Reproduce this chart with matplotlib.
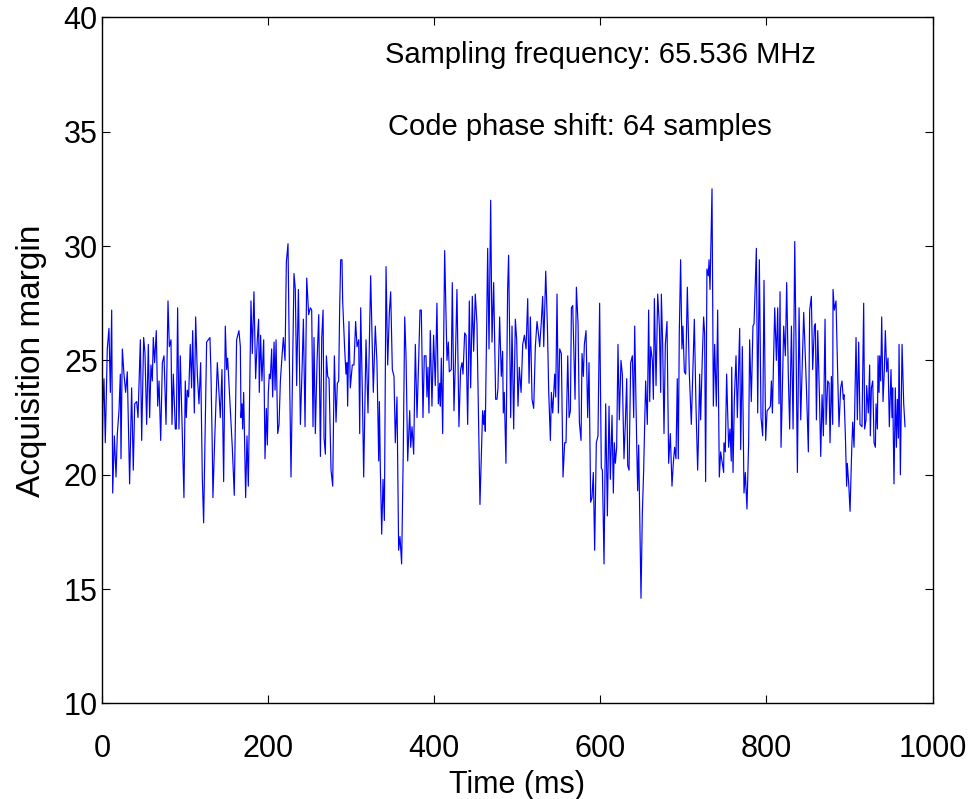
import matplotlib
matplotlib.use("Agg")
import matplotlib.pyplot as plt
from matplotlib import font_manager as fm
import numpy as np

# ---------------- data ----------------
t_seg1 = [0.0, 1.2, 2.4, 4.0, 6.4, 8.4, 10.1, 11.7, 12.9, 14.9,
          16.9, 18.5, 20.5, 22.1, 22.9, 24.5, 26.5, 28.5, 30.5, 33.3,
          35.7, 37.7, 39.4, 41.8, 43.4, 46.2, 47.8, 50.2, 51.8, 53.8,
          55.8, 57.4, 59.0, 60.6, 61.8, 63.4, 65.4, 67.1, 68.7, 70.7,
          72.7, 74.7, 77.1, 79.5, 81.1, 83.1, 84.3, 85.9, 88.3, 89.5,
          91.1, 92.7, 94.3]
m_seg1 = [20.0, 23.1, 24.2, 21.4, 25.5, 26.4, 23.6, 27.2, 19.2, 21.7,
          19.9, 21.8, 22.8, 24.4, 20.7, 25.5, 24.4, 23.6, 24.5, 19.6,
          23.8, 20.2, 23.1, 23.2, 22.5, 25.9, 21.5, 26.0, 25.3, 22.2,
          25.7, 22.5, 24.8, 24.1, 26.0, 24.9, 26.3, 23.0, 24.1, 21.5,
          24.9, 25.2, 22.2, 27.6, 25.6, 25.9, 22.2, 24.4, 22.0, 22.0,
          27.3, 22.0, 25.2]

t_seg2 = [98.7, 100.3, 101.5, 102.7, 104.3, 106.3, 107.9, 109.2, 111.2, 112.8,
          114.8, 116.8, 118.8, 120.8, 122.4, 126.0, 128.0, 130.0, 131.2, 132.8,
          133.6, 135.6, 138.9, 140.5, 142.5, 144.5, 146.5, 148.5, 150.1, 151.3,
          153.3, 154.9, 156.9, 159.3, 162.1, 164.9, 166.6, 167.4, 168.6, 169.4,
          170.6, 173.0, 174.6, 176.2, 179.4, 181.0, 183.0, 185.0, 187.0, 188.6,
          189.4, 191.0, 192.6]
m_seg2 = [19.0, 24.1, 22.5, 23.7, 23.4, 25.7, 23.8, 26.3, 22.7, 26.9,
          24.4, 23.1, 24.9, 19.9, 17.9, 25.8, 25.9, 26.0, 24.5, 21.2,
          19.0, 21.4, 24.9, 23.8, 22.5, 24.6, 19.7, 26.5, 24.6, 25.1,
          23.7, 22.5, 21.2, 19.1, 25.9, 26.3, 25.6, 22.5, 23.1, 22.0,
          23.6, 19.0, 21.7, 19.5, 27.6, 25.3, 28.0, 24.2, 25.9, 26.8,
          23.6, 26.1, 24.1]

t_seg3 = [194.7, 196.3, 197.9, 199.1, 200.3, 201.5, 202.7, 204.3, 205.5, 207.2,
          208.4, 209.6, 211.6, 213.2, 214.8, 216.8, 218.4, 220.4, 222.0, 224.0,
          225.6, 227.6, 229.6, 231.2, 232.8, 234.4, 236.5, 238.9, 240.9, 242.5,
          244.5, 246.5, 248.9, 250.9, 252.5, 254.1, 255.3, 256.9, 259.0, 261.0,
          263.0, 264.6, 266.2, 267.4, 269.0, 270.2, 271.8, 273.4, 275.8, 277.8,
          279.8, 281.8, 283.4, 285.0, 286.2, 287.4, 289.0, 289.8]
m_seg3 = [25.9, 20.7, 22.9, 21.3, 23.6, 24.4, 24.2, 25.5, 23.4, 25.8,
          23.7, 25.9, 21.8, 22.2, 24.1, 25.2, 26.0, 25.0, 29.3, 30.1,
          25.1, 19.9, 24.9, 28.8, 28.1, 23.9, 28.1, 22.2, 24.6, 26.8,
          22.1, 28.6, 27.0, 27.3, 27.2, 22.1, 26.0, 21.8, 25.0, 27.0,
          20.8, 26.0, 27.2, 21.6, 20.9, 25.2, 24.3, 24.2, 20.2, 19.5,
          25.2, 22.3, 24.0, 24.1, 27.3, 29.4, 29.4, 27.6]

t_seg4 = [292.2, 293.8, 295.0, 295.8, 297.4, 299.0, 301.4, 303.4, 305.4, 307.1,
          309.1, 310.3, 311.5, 313.5, 315.1, 317.9, 320.3, 323.5, 326.7, 329.1,
          331.1, 333.2, 334.0, 335.2, 336.8, 338.4, 340.0, 342.0, 344.0, 346.0,
          347.6, 349.6, 351.6, 353.2, 355.2, 357.2, 358.8, 360.8, 362.8, 364.5,
          366.1, 368.1, 370.5, 371.7, 373.3, 375.3, 377.3, 379.3, 381.3, 382.9,
          384.5, 386.5, 388.1]
m_seg4 = [25.5, 24.4, 24.9, 23.0, 26.7, 23.8, 24.8, 24.8, 26.7, 25.6,
          25.9, 21.8, 27.3, 23.6, 19.9, 25.9, 22.7, 28.7, 23.6, 26.5,
          24.9, 20.6, 23.2, 20.2, 17.4, 19.8, 18.0, 29.1, 24.8, 27.1,
          28.0, 24.6, 24.3, 21.4, 23.4, 16.7, 17.3, 16.1, 21.1, 26.9,
          25.2, 20.6, 22.8, 21.2, 22.1, 20.9, 25.7, 22.5, 25.0, 27.2,
          27.2, 22.5, 25.2]

t_seg5 = [390.1, 391.3, 392.5, 393.7, 395.3, 397.3, 399.3, 401.3, 403.3, 405.0,
          406.6, 407.4, 408.6, 410.2, 412.6, 415.4, 417.0, 418.2, 420.6, 421.8,
          423.8, 425.4, 427.4, 429.8, 431.8, 433.5, 434.7, 436.7, 438.3, 440.3,
          442.3, 443.9, 445.9, 447.5, 449.5, 451.5, 455.1, 458.3, 459.5, 460.7,
          461.5, 464.4, 466.0, 468.0, 469.6, 471.6, 474.0, 475.6, 476.8, 478.8,
          480.8, 482.4, 483.2, 484.4, 486.4, 488.4, 489.6]
m_seg5 = [25.2, 23.4, 24.7, 22.7, 26.3, 23.0, 26.1, 23.9, 27.5, 23.1,
          24.0, 23.0, 25.1, 21.8, 29.8, 25.0, 25.8, 24.5, 24.6, 28.4,
          22.8, 24.8, 28.1, 22.1, 24.6, 24.9, 24.4, 26.2, 26.1, 22.2,
          27.6, 23.8, 27.8, 25.4, 27.9, 26.6, 18.7, 22.8, 22.2, 22.8,
          21.9, 29.9, 25.5, 32.0, 25.8, 28.4, 23.3, 23.3, 23.8, 26.9,
          24.3, 25.4, 22.7, 23.6, 20.5, 28.1, 29.6]

t_seg6 = [492.1, 493.7, 495.7, 497.7, 499.3, 500.9, 502.5, 504.6, 506.6, 508.6,
          510.6, 512.6, 514.2, 515.8, 517.8, 519.8, 521.8, 523.8, 525.4, 527.0,
          529.0, 530.6, 531.9, 534.3, 536.3, 537.9, 539.9, 541.1, 542.7, 545.1,
          546.3, 547.9, 549.5, 551.1, 553.1, 555.1, 557.1, 558.7, 560.8, 562.4,
          564.0, 565.2, 566.8, 568.0, 569.6, 571.2, 573.2, 574.8, 576.8, 578.0,
          579.6, 580.8, 582.8, 584.8, 586.4]
m_seg6 = [22.5, 26.5, 22.0, 26.8, 25.9, 23.0, 24.7, 23.6, 25.7, 26.1,
          25.5, 27.7, 24.0, 26.9, 23.3, 22.9, 25.6, 26.7, 26.2, 25.6,
          26.7, 27.8, 25.6, 28.9, 26.5, 23.6, 21.5, 23.6, 22.7, 24.4,
          23.4, 27.9, 22.7, 25.5, 25.3, 19.9, 21.4, 21.4, 25.2, 22.5,
          22.8, 27.3, 27.4, 25.7, 23.3, 28.2, 26.6, 22.3, 21.5, 25.3,
          24.3, 25.7, 26.3, 22.5, 24.9]

t_seg7 = [588.4, 590.0, 591.6, 593.2, 595.2, 597.2, 599.2, 601.2, 602.5, 604.5,
          606.5, 608.5, 610.5, 612.1, 614.1, 615.7, 616.9, 618.1, 619.7, 621.3,
          622.9, 624.9, 626.5, 628.5, 630.2, 631.8, 633.0, 634.6, 636.6, 638.6,
          640.2, 641.4, 643.8, 645.0, 646.2, 647.0, 649.0, 650.6, 652.2, 654.6,
          656.6, 658.2, 659.5, 660.7, 662.7, 663.9, 665.1, 667.1, 669.1, 671.1,
          672.7, 673.5, 675.1, 676.7, 678.3, 680.3, 681.5, 682.3, 684.3]
m_seg7 = [18.8, 19.0, 20.1, 16.7, 21.4, 21.7, 27.5, 20.3, 20.2, 16.1,
          23.1, 18.2, 23.0, 19.8, 22.6, 19.2, 21.4, 20.5, 21.2, 25.7,
          22.4, 25.0, 24.4, 20.7, 22.3, 24.2, 20.4, 20.2, 24.9, 25.2,
          22.5, 26.5, 21.4, 19.3, 21.3, 19.3, 14.6, 18.3, 20.2, 24.1,
          22.2, 27.2, 23.2, 25.6, 25.0, 23.3, 27.7, 23.9, 27.9, 26.5,
          23.6, 27.9, 25.7, 21.8, 25.7, 26.7, 23.1, 20.5, 21.8]

t_seg8 = [686.3, 687.9, 689.5, 691.1, 692.7, 693.9, 695.1, 696.7, 698.3, 699.5,
          701.2, 702.8, 704.8, 707.2, 709.6, 711.2, 713.2, 715.2, 717.2, 718.0,
          719.6, 720.8, 722.8, 724.4, 725.6, 726.8, 728.4, 730.1, 730.9, 732.1,
          734.5, 736.1, 737.7, 739.7, 741.3, 743.3, 744.9, 746.9, 748.5, 748.9,
          750.5, 752.1, 754.5, 756.1, 757.7, 758.2, 759.8, 761.4, 763.4, 765.0,
          767.8, 769.0, 771.0, 772.2, 773.0, 774.6, 776.6, 778.6, 779.8, 781.8,
          783.8]
m_seg8 = [19.5, 20.5, 21.2, 20.7, 24.2, 20.7, 26.2, 29.4, 25.5, 26.5,
          24.5, 24.4, 28.2, 24.4, 22.2, 24.2, 26.8, 23.0, 20.2, 21.3,
          24.4, 22.4, 25.1, 26.9, 26.2, 19.7, 29.0, 28.7, 29.4, 28.1,
          32.5, 23.0, 25.7, 23.0, 27.2, 19.9, 21.0, 20.5, 20.1, 21.4,
          21.0, 24.4, 21.2, 22.0, 20.6, 24.7, 20.1, 23.3, 25.2, 22.5,
          26.4, 21.1, 25.6, 21.7, 19.2, 20.1, 18.5, 21.4, 25.9, 23.2,
          26.5]

t_seg9 = [785.1, 787.9, 789.5, 791.5, 793.5, 795.5, 797.1, 799.1, 800.8, 803.2,
          804.8, 806.0, 807.2, 810.0, 812.0, 813.6, 815.2, 816.4, 817.6, 818.8,
          820.8, 822.8, 824.4, 826.4, 828.0, 830.1, 832.1, 834.1, 835.7, 837.3,
          839.3, 841.3, 844.9, 848.1, 850.5, 852.1, 854.1, 855.7, 857.8, 859.0,
          860.2, 861.8, 863.8, 865.4, 867.0, 868.6, 870.6, 871.8, 873.8, 875.4,
          876.6, 878.2, 879.8, 880.2, 881.8]
m_seg9 = [26.6, 29.9, 22.7, 29.4, 22.5, 21.7, 28.5, 21.5, 22.8, 22.9,
          23.0, 24.1, 22.7, 27.3, 25.0, 27.3, 23.1, 28.0, 21.2, 23.0,
          26.5, 25.2, 28.4, 24.3, 22.0, 26.5, 22.0, 30.2, 25.6, 20.1,
          27.3, 22.4, 27.1, 23.9, 21.0, 27.2, 27.8, 24.6, 26.5, 26.6,
          22.4, 26.3, 23.5, 20.8, 23.5, 21.7, 26.8, 22.2, 24.1, 24.0,
          21.4, 24.3, 22.2, 28.1, 27.2]

t_seg10 = [883.8, 885.8, 887.4, 889.4, 891.0, 892.6, 893.4, 895.0, 896.6, 897.4,
           899.1, 900.7, 902.7, 903.9, 905.5, 907.9, 909.5, 911.1, 912.7, 915.1,
           917.1, 918.3, 919.9, 920.7, 922.7, 924.3, 925.1, 926.4, 928.0, 929.6,
           931.2, 932.0, 933.6, 934.4, 935.6, 936.4, 937.6, 938.8, 940.4, 942.0,
           943.2, 944.8, 946.4, 948.0, 950.0, 951.2, 952.0, 953.6, 955.2, 956.5,
           957.7, 958.9, 959.7, 961.3, 963.3, 965.3, 966.9]
m_seg10 = [27.6, 24.4, 22.1, 23.8, 24.1, 23.3, 23.5, 21.8, 19.5, 20.5,
           19.6, 18.4, 21.1, 22.3, 21.2, 26.0, 22.4, 25.8, 22.2, 22.1,
           27.5, 22.0, 22.4, 23.9, 22.7, 24.8, 21.7, 23.8, 24.1, 21.4,
           21.2, 23.1, 22.0, 25.2, 23.6, 25.2, 24.1, 26.9, 23.2, 24.6,
           26.3, 24.5, 25.1, 22.1, 24.6, 22.5, 23.8, 19.6, 23.8, 21.2,
           23.3, 21.6, 25.7, 20.0, 25.7, 23.1, 22.1]

x_ticks = [0, 200, 400, 600, 800, 1000]
y_ticks = [10, 15, 20, 25, 30, 35, 40]
note_lines = ["Sampling frequency: 65.536 MHz", "Code phase shift: 64 samples"]
x_label = "Time (ms)"
y_label = "Acquisition margin"

# ---------------- fonts ----------------
def pick(fams):
    for f in fams:
        try:
            fm.findfont(fm.FontProperties(family=f), fallback_to_default=False)
            return f
        except Exception:
            pass
    return None

regular = pick(["Liberation Sans", "Arial"]) or "DejaVu Sans"
narrow = pick(["Liberation Sans Narrow", "Arial Narrow"])
plt.rcParams["font.family"] = [regular, "DejaVu Sans"]

if narrow:
    tick_font = dict(family=[narrow, regular], size=25)
    xlab_font = dict(family=[narrow, regular], size=26)
else:
    tick_font = dict(family=[regular], size=22)
    xlab_font = dict(family=[regular], size=22)

# ---------------- figure ----------------
fig = plt.figure(figsize=(9.73, 7.99), dpi=100)
ax = fig.add_axes([0.1048, 0.1196, 0.8536, 0.8587])

time_ms = np.concatenate([t_seg1, t_seg2, t_seg3, t_seg4, t_seg5,
                          t_seg6, t_seg7, t_seg8, t_seg9, t_seg10])
margin = np.concatenate([m_seg1, m_seg2, m_seg3, m_seg4, m_seg5,
                         m_seg6, m_seg7, m_seg8, m_seg9, m_seg10])

ax.plot(time_ms, margin, color="#0000FF", linewidth=0.85)

ax.set_xlim(0, 1000)
ax.set_ylim(10, 40)
ax.set_xticks(x_ticks)
ax.set_yticks(y_ticks)
ax.tick_params(direction="in", length=6, width=0.8, top=True, right=True,
               colors="black")
ax.tick_params(axis="x", pad=22)
ax.tick_params(axis="y", pad=3)
for lab in ax.get_xticklabels() + ax.get_yticklabels():
    lab.set_fontfamily(tick_font["family"])
    lab.set_fontsize(tick_font["size"])
for s in ax.spines.values():
    s.set_linewidth(1.0)
    s.set_color("black")

ax.set_xlabel(x_label, labelpad=4, **xlab_font)
ax.set_ylabel(y_label, fontsize=24, family=[regular], labelpad=12)

ax.text(341, 38.35, note_lines[0], fontsize=21, va="center", ha="left")
ax.text(344, 35.2, note_lines[1], fontsize=21, va="center", ha="left")

fig.savefig("out.png", dpi=100)
